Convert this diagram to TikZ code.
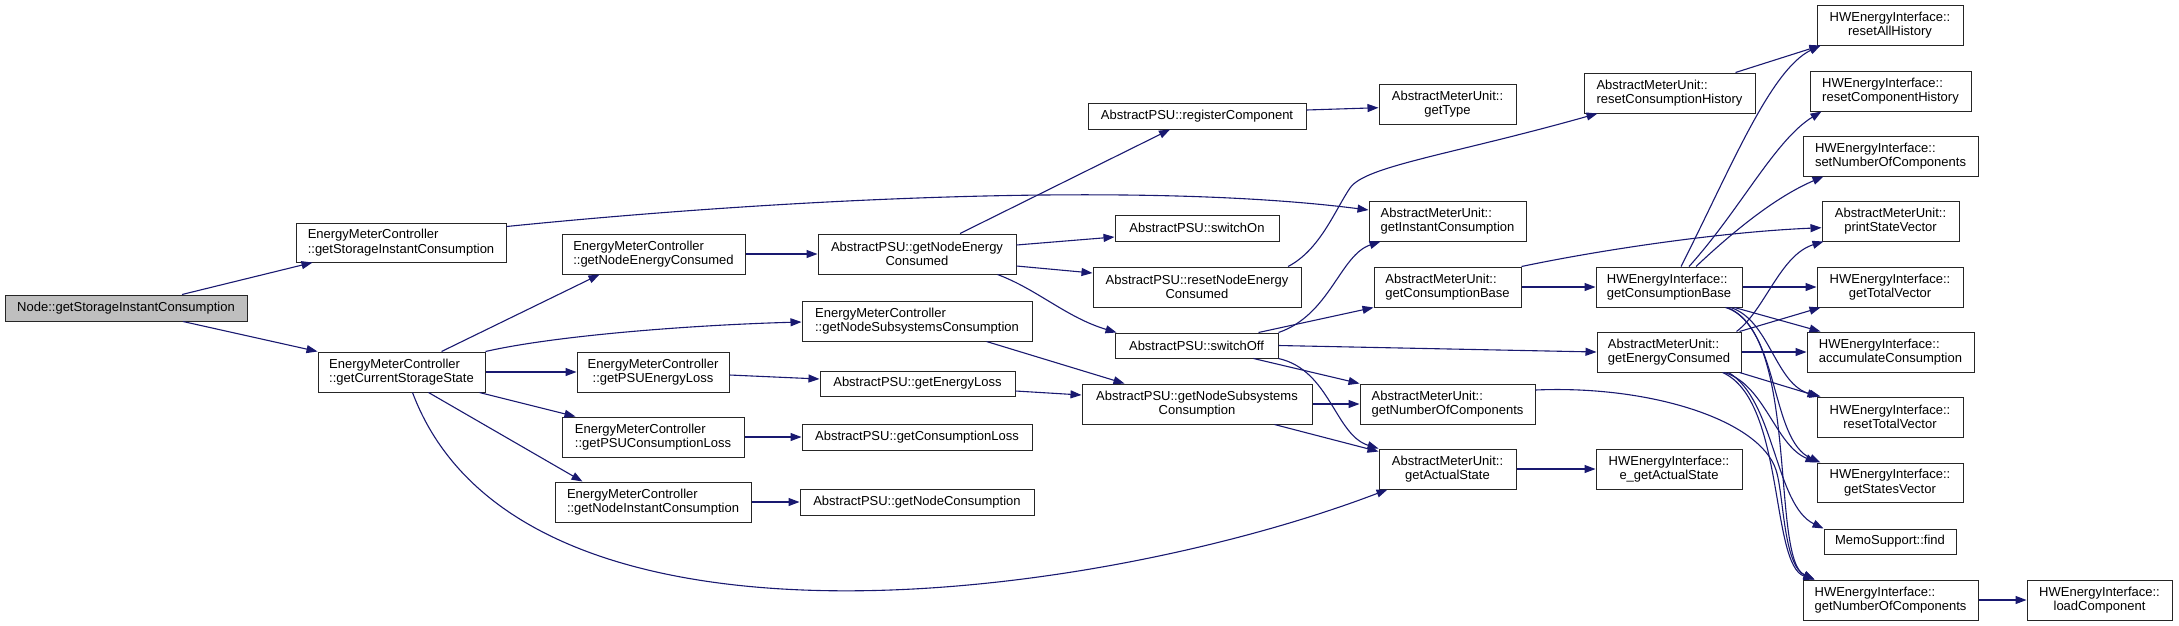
\documentclass[tikz,border=0pt]{standalone}
\usepackage{fontspec}
\setmainfont{Liberation Sans}
\usetikzlibrary{arrows.meta}
\definecolor{edgeblue}{HTML}{191970}
\definecolor{rootgray}{HTML}{BFBFBF}
\tikzset{
  callbox/.style={draw=black!85, line width=1pt, fill=white, inner sep=0pt,
    font=\fontsize{13}{14.5}\selectfont},
  calledge/.style={draw=edgeblue, line width=1.1pt,
    -{Triangle[length=11pt,width=8pt]}, edgeblue}
}
\begin{document}
\begin{tikzpicture}[x=1pt,y=-1pt]
\useasboundingbox (0,0) rectangle (2179,625);
% column 0
\node[callbox, fill=rootgray, minimum width=242pt, minimum height=26pt] (root) at (126,308) {Node::getStorageInstantConsumption};
% column 1
\node[callbox, minimum width=210pt, minimum height=39pt, align=left] (emcSIC) at (401,242.5) {EnergyMeterController\\::getStorageInstantConsumption};
\node[callbox, minimum width=167pt, minimum height=40pt, align=left] (emcCSS) at (401.5,372) {EnergyMeterController\\::getCurrentStorageState};
% column 2
\node[callbox, minimum width=183pt, minimum height=40pt, align=left] (emcNEC) at (653.5,254) {EnergyMeterController\\::getNodeEnergyConsumed};
\node[callbox, minimum width=152pt, minimum height=40pt, align=center] (emcPEL) at (653,372) {EnergyMeterController\\::getPSUEnergyLoss};
\node[callbox, minimum width=182pt, minimum height=40pt, align=left] (emcPCL) at (653,437) {EnergyMeterController\\::getPSUConsumptionLoss};
\node[callbox, minimum width=196pt, minimum height=40pt, align=left] (emcNIC) at (653,502) {EnergyMeterController\\::getNodeInstantConsumption};
% column 3
\node[callbox, minimum width=198pt, minimum height=40pt, align=center] (psuNEC) at (917,254) {AbstractPSU::getNodeEnergy\\Consumed};
\node[callbox, minimum width=230pt, minimum height=40pt, align=left] (emcNSC) at (917,321) {EnergyMeterController\\::getNodeSubsystemsConsumption};
\node[callbox, minimum width=195pt, minimum height=25pt] (psuEL) at (917.5,383.5) {AbstractPSU::getEnergyLoss};
\node[callbox, minimum width=230pt, minimum height=26pt] (psuCL) at (917,437) {AbstractPSU::getConsumptionLoss};
\node[callbox, minimum width=234pt, minimum height=26pt] (psuNC) at (917,502) {AbstractPSU::getNodeConsumption};
% column 4
\node[callbox, minimum width=218pt, minimum height=26pt] (psuRC) at (1197,116) {AbstractPSU::registerComponent};
\node[callbox, minimum width=164pt, minimum height=26pt] (psuOn) at (1197,228) {AbstractPSU::switchOn};
\node[callbox, minimum width=208pt, minimum height=40pt, align=center] (psuRNEC) at (1197,287) {AbstractPSU::resetNodeEnergy\\Consumed};
\node[callbox, minimum width=163pt, minimum height=25pt] (psuOff) at (1196.5,345.5) {AbstractPSU::switchOff};
\node[callbox, minimum width=230pt, minimum height=40pt, align=center] (psuNSC) at (1197,404) {AbstractPSU::getNodeSubsystems\\Consumption};
% column 5
\node[callbox, minimum width=137pt, minimum height=40pt, align=center] (amuType) at (1447.5,104) {AbstractMeterUnit::\\getType};
\node[callbox, minimum width=157pt, minimum height=40pt, align=left] (amuIC) at (1447.5,221) {AbstractMeterUnit::\\getInstantConsumption};
\node[callbox, minimum width=147pt, minimum height=40pt, align=left] (amuCB) at (1447.5,287) {AbstractMeterUnit::\\getConsumptionBase};
\node[callbox, minimum width=175pt, minimum height=40pt, align=left] (amuNOC) at (1447.5,404) {AbstractMeterUnit::\\getNumberOfComponents};
\node[callbox, minimum width=137pt, minimum height=40pt, align=center] (amuAS) at (1447.5,469) {AbstractMeterUnit::\\getActualState};
% column 6
\node[callbox, minimum width=171pt, minimum height=40pt, align=left] (amuRCH) at (1669.5,93) {AbstractMeterUnit::\\resetConsumptionHistory};
\node[callbox, minimum width=146pt, minimum height=40pt, align=left] (hwCB) at (1669,287) {HWEnergyInterface::\\getConsumptionBase};
\node[callbox, minimum width=144pt, minimum height=40pt, align=left] (amuEC) at (1669,352) {AbstractMeterUnit::\\getEnergyConsumed};
\node[callbox, minimum width=146pt, minimum height=40pt, align=center] (hwEAS) at (1669,469) {HWEnergyInterface::\\e\_getActualState};
% column 7
\node[callbox, minimum width=146pt, minimum height=40pt, align=center] (hwRAH) at (1890,25) {HWEnergyInterface::\\resetAllHistory};
\node[callbox, minimum width=161pt, minimum height=40pt, align=left] (hwRCH) at (1890.5,91) {HWEnergyInterface::\\resetComponentHistory};
\node[callbox, minimum width=175pt, minimum height=40pt, align=left] (hwSNOC) at (1890.5,156) {HWEnergyInterface::\\setNumberOfComponents};
\node[callbox, minimum width=137pt, minimum height=40pt, align=center] (amuPSV) at (1890.5,221) {AbstractMeterUnit::\\printStateVector};
\node[callbox, minimum width=146pt, minimum height=40pt, align=center] (hwTV) at (1890,287) {HWEnergyInterface::\\getTotalVector};
\node[callbox, minimum width=167pt, minimum height=40pt, align=left] (hwAC) at (1890.5,352) {HWEnergyInterface::\\accumulateConsumption};
\node[callbox, minimum width=146pt, minimum height=40pt, align=center] (hwRTV) at (1890,417) {HWEnergyInterface::\\resetTotalVector};
\node[callbox, minimum width=146pt, minimum height=39pt, align=center] (hwSV) at (1890,482.5) {HWEnergyInterface::\\getStatesVector};
\node[callbox, minimum width=132pt, minimum height=25pt] (msFind) at (1890,541.5) {MemoSupport::find};
\node[callbox, minimum width=175pt, minimum height=40pt, align=left] (hwNOC) at (1890.5,600) {HWEnergyInterface::\\getNumberOfComponents};
% column 8
\node[callbox, minimum width=145pt, minimum height=40pt, align=center] (hwLC) at (2099.5,600) {HWEnergyInterface::\\loadComponent};

% edges
\draw[calledge] ([xshift=56pt]root.north) -- ([xshift=17pt]emcSIC.south west);
\draw[calledge] ([xshift=57pt]root.south) -- (emcCSS.north west);
\draw[calledge] ([yshift=-4pt]emcSIC.north east) .. controls (800,197) and (1150,182) .. ([yshift=11pt]amuIC.west);
\draw[calledge] ([xshift=40pt]emcCSS.north) -- ([xshift=38pt]emcNEC.south west);
\draw[calledge] (emcCSS.north east) .. controls +(70,-16) and +(-110,3) .. ([yshift=-1pt]emcNSC.west);
\draw[calledge] (emcCSS.east) -- (emcPEL.west);
\draw[calledge] ([xshift=-6pt]emcCSS.south east) -- ([xshift=14pt]emcPCL.north west);
\draw[calledge] ([xshift=27pt]emcCSS.south) -- ([xshift=28pt]emcNIC.north west);
\draw[calledge] ([xshift=11pt]emcCSS.south) .. controls +(108,288) and +(-288,110) .. ([xshift=9pt]amuAS.south west);
\draw[calledge] (emcNEC.east) -- (psuNEC.west);
\draw[calledge] ([xshift=43pt]psuNEC.north) -- ([xshift=-27pt]psuRC.south);
\draw[calledge] ([yshift=9pt]psuNEC.east) -- ([yshift=-9pt]psuOn.west);
\draw[calledge] ([yshift=-12pt]psuNEC.east) -- ([yshift=14pt]psuRNEC.west);
\draw[calledge] ([xshift=-19pt]psuNEC.south east) .. controls +(40,15) and +(-50,-15) .. ([xshift=2pt]psuOff.north west);
\draw[calledge] ([xshift=-46pt]emcNSC.south east) -- ([xshift=43pt]psuNSC.north west);
\draw[calledge] ([yshift=-3pt]emcPEL.east) -- ([yshift=4.5pt]psuEL.west);
\draw[calledge] ([yshift=-7.5pt]psuEL.east) -- ([yshift=9pt]psuNSC.west);
\draw[calledge] (emcPCL.east) -- (psuCL.west);
\draw[calledge] (emcNIC.east) -- (psuNC.west);
\draw[calledge] ([yshift=6pt]psuRC.east) -- ([yshift=-3.7pt]amuType.west);
\draw[calledge] ([xshift=91pt]psuRNEC.north) .. controls (1320,250) and (1335,210) .. (1350,188) .. controls (1365,166) and (1450,155) .. ([xshift=14pt]amuRCH.south west);
\draw[calledge] (psuOff.north east) .. controls (1330,315) and (1340,255) .. ([xshift=12pt]amuIC.south west);
\draw[calledge] ([xshift=-20pt]psuOff.north east) -- (amuCB.south west);
\draw[calledge] (psuOff.east) -- (amuEC.west);
\draw[calledge] ([xshift=-25pt]psuOff.south east) -- (amuNOC.north west);
\draw[calledge] (psuOff.south east) .. controls (1330,370) and (1335,435) .. (amuAS.north west);
\draw[calledge] (psuNSC.east) -- (amuNOC.west);
\draw[calledge] ([xshift=-38pt]psuNSC.south east) -- ([yshift=-3pt]amuAS.north west);
\draw[calledge] ([xshift=66pt]amuRCH.north) -- ([xshift=4pt]hwRAH.south west);
\draw[calledge] (amuCB.east) -- (hwCB.west);
\draw[calledge] (amuCB.north east) .. controls (1600,250) and (1720,232) .. ([yshift=-6.7pt]amuPSV.west);
\draw[calledge] ([yshift=14pt]amuNOC.east) .. controls (1650,385) and (1760,420) .. (1776,470) .. controls (1784,495) and (1783,565) .. ([xshift=12pt]hwNOC.north west);
\draw[calledge] (amuAS.east) -- (hwEAS.west);
\draw[calledge] ([xshift=12pt]hwCB.north) .. controls (1730,170) and (1770,70) .. ([xshift=4pt]hwRAH.south west);
\draw[calledge] ([xshift=20pt]hwCB.north) .. controls (1740,210) and (1775,140) .. ([xshift=12pt]hwRCH.south west);
\draw[calledge] ([xshift=27pt]hwCB.north) .. controls (1740,225) and (1780,195) .. ([xshift=21pt]hwSNOC.south west);
\draw[calledge] (hwCB.east) -- (hwTV.west);
\draw[calledge] ([xshift=-8pt]hwCB.south east) -- ([xshift=14pt]hwAC.north west);
\draw[calledge] ([xshift=-12pt]hwCB.south east) .. controls (1770,320) and (1775,385) .. ([xshift=4pt]hwRTV.north west);
\draw[calledge] ([xshift=-15pt]hwCB.south east) .. controls (1780,330) and (1770,440) .. ([xshift=4pt]hwSV.north west);
\draw[calledge] ([xshift=-17pt]hwCB.south east) .. controls (1800,330) and (1770,560) .. ([xshift=12pt]hwNOC.north west);
\draw[calledge] ([xshift=-5pt]amuEC.north east) .. controls (1765,310) and (1780,255) .. ([xshift=2pt]amuPSV.south west);
\draw[calledge] ([xshift=-2pt]amuEC.north east) -- ([xshift=4pt]hwTV.south west);
\draw[calledge] (amuEC.east) -- (hwAC.west);
\draw[calledge] ([xshift=-2pt]amuEC.south east) -- ([xshift=2pt]hwRTV.north west);
\draw[calledge] ([xshift=-17pt]amuEC.south east) .. controls (1765,385) and (1775,445) .. (hwSV.north west);
\draw[calledge] ([xshift=-13pt]amuEC.south east) .. controls (1775,400) and (1775,505) .. (msFind.north west);
\draw[calledge] ([xshift=-19pt]amuEC.south east) .. controls (1785,400) and (1770,565) .. ([xshift=12pt]hwNOC.north west);
\draw[calledge] (hwNOC.east) -- (hwLC.west);
\end{tikzpicture}
\end{document}
